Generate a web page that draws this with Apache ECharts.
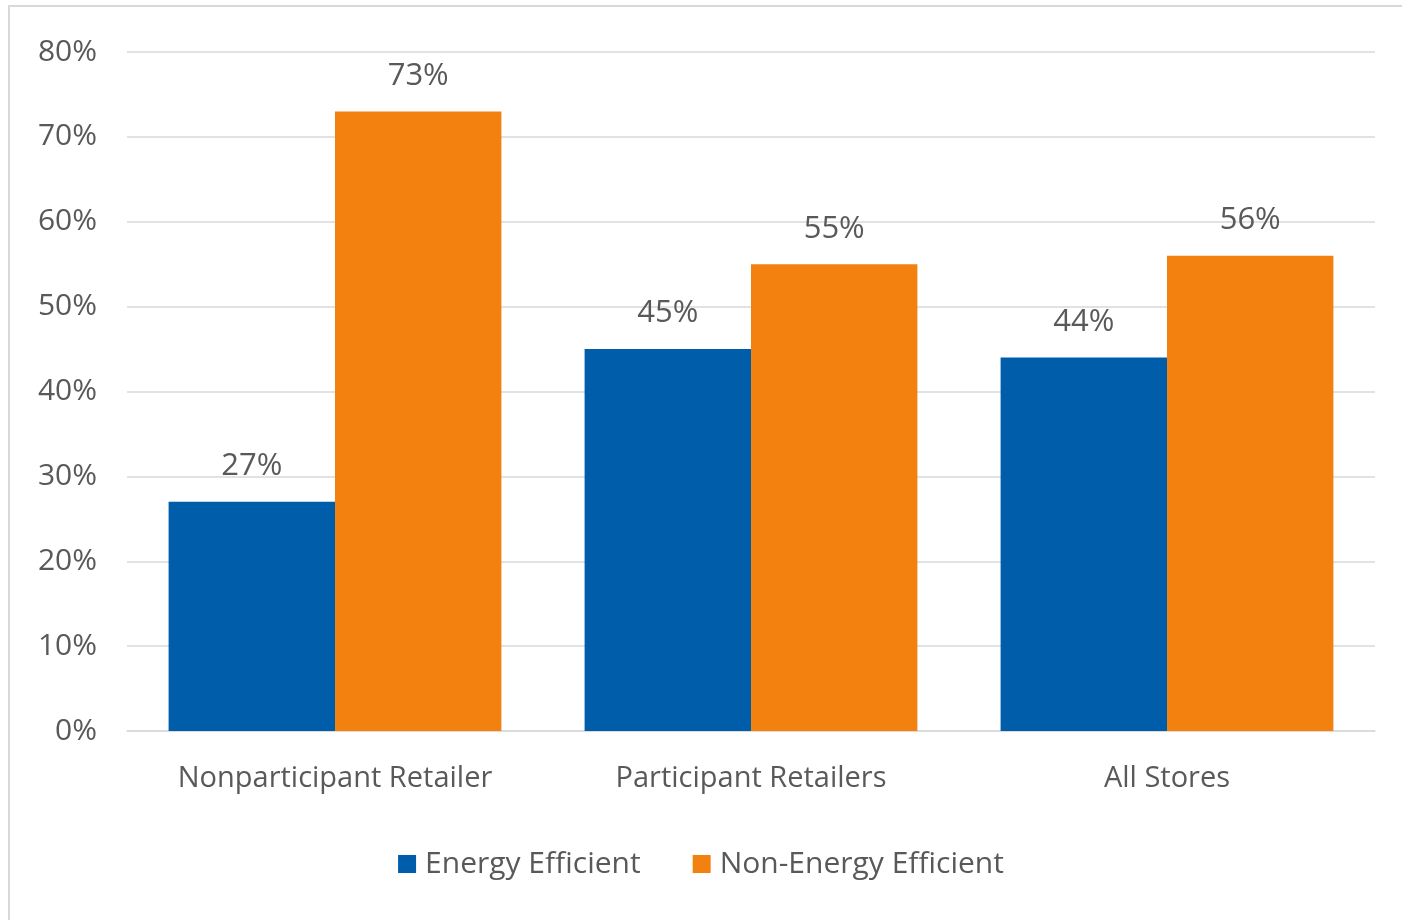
<!DOCTYPE html>
<html>
<head>
<meta charset="utf-8">
<script src="https://cdn.jsdelivr.net/npm/echarts@6/dist/echarts.min.js"></script>
<style>
  html, body { margin: 0; padding: 0; background: #ffffff; }
  #chart { width: 1402px; height: 920px; }
</style>
</head>
<body>
<div id="chart"></div>
<script>
// Share of purchases by store type
const categories = ['Nonparticipant Retailer', 'Participant Retailers', 'All Stores'];
const energyEfficient = [27, 45, 44];
const nonEnergyEfficient = [73, 55, 56];
const yTicks = [0, 10, 20, 30, 40, 50, 60, 70, 80];

const textColor = '#595959';
const fontFamily = '"Open Sans", "Liberation Sans", sans-serif';

const chart = echarts.init(document.getElementById('chart'), null, { renderer: 'canvas' });

const labelStyle = {
  show: true,
  position: 'top',
  distance: 20,
  formatter: p => p.value + '%',
  color: textColor,
  fontSize: 31,
  fontFamily: fontFamily
};

chart.setOption({
  backgroundColor: '#ffffff',
  animation: false,
  graphic: [{
    type: 'rect',
    shape: { x: 9, y: 6, width: 1500, height: 1000 },
    style: { fill: 'none', stroke: '#d9d9d9', lineWidth: 2 },
    silent: true
  }],
  grid: { left: 127, right: 27, top: 52, bottom: 189, containLabel: false },
  legend: {
    bottom: 36,
    left: 'center',
    itemWidth: 18,
    itemHeight: 18,
    itemGap: 52,
    icon: 'rect',
    textStyle: { color: textColor, fontSize: 30, fontFamily: fontFamily, padding: [0, 0, 0, 4] },
    data: ['Energy Efficient', 'Non-Energy Efficient']
  },
  xAxis: {
    type: 'category',
    data: categories,
    axisLine: { show: true, lineStyle: { color: '#d9d9d9', width: 1.5 } },
    axisTick: { show: false },
    axisLabel: {
      interval: 0,
      hideOverlap: false,
      color: textColor,
      fontSize: 29,
      fontFamily: fontFamily,
      margin: 33
    }
  },
  yAxis: {
    type: 'value',
    min: yTicks[0],
    max: yTicks[yTicks.length - 1],
    interval: 10,
    axisLine: { show: false },
    axisTick: { show: false },
    splitLine: { lineStyle: { color: '#d9d9d9', width: 1.5 } },
    axisLabel: {
      color: textColor,
      fontSize: 30,
      fontFamily: fontFamily,
      margin: 30,
      formatter: v => v + '%'
    }
  },
  series: [
    {
      name: 'Energy Efficient',
      type: 'bar',
      data: energyEfficient,
      barGap: '0%',
      barCategoryGap: '20%',
      itemStyle: { color: '#005DA9' },
      label: labelStyle
    },
    {
      name: 'Non-Energy Efficient',
      type: 'bar',
      data: nonEnergyEfficient,
      barGap: '0%',
      barCategoryGap: '20%',
      itemStyle: { color: '#F28110' },
      label: labelStyle
    }
  ]
});
</script>
</body>
</html>
